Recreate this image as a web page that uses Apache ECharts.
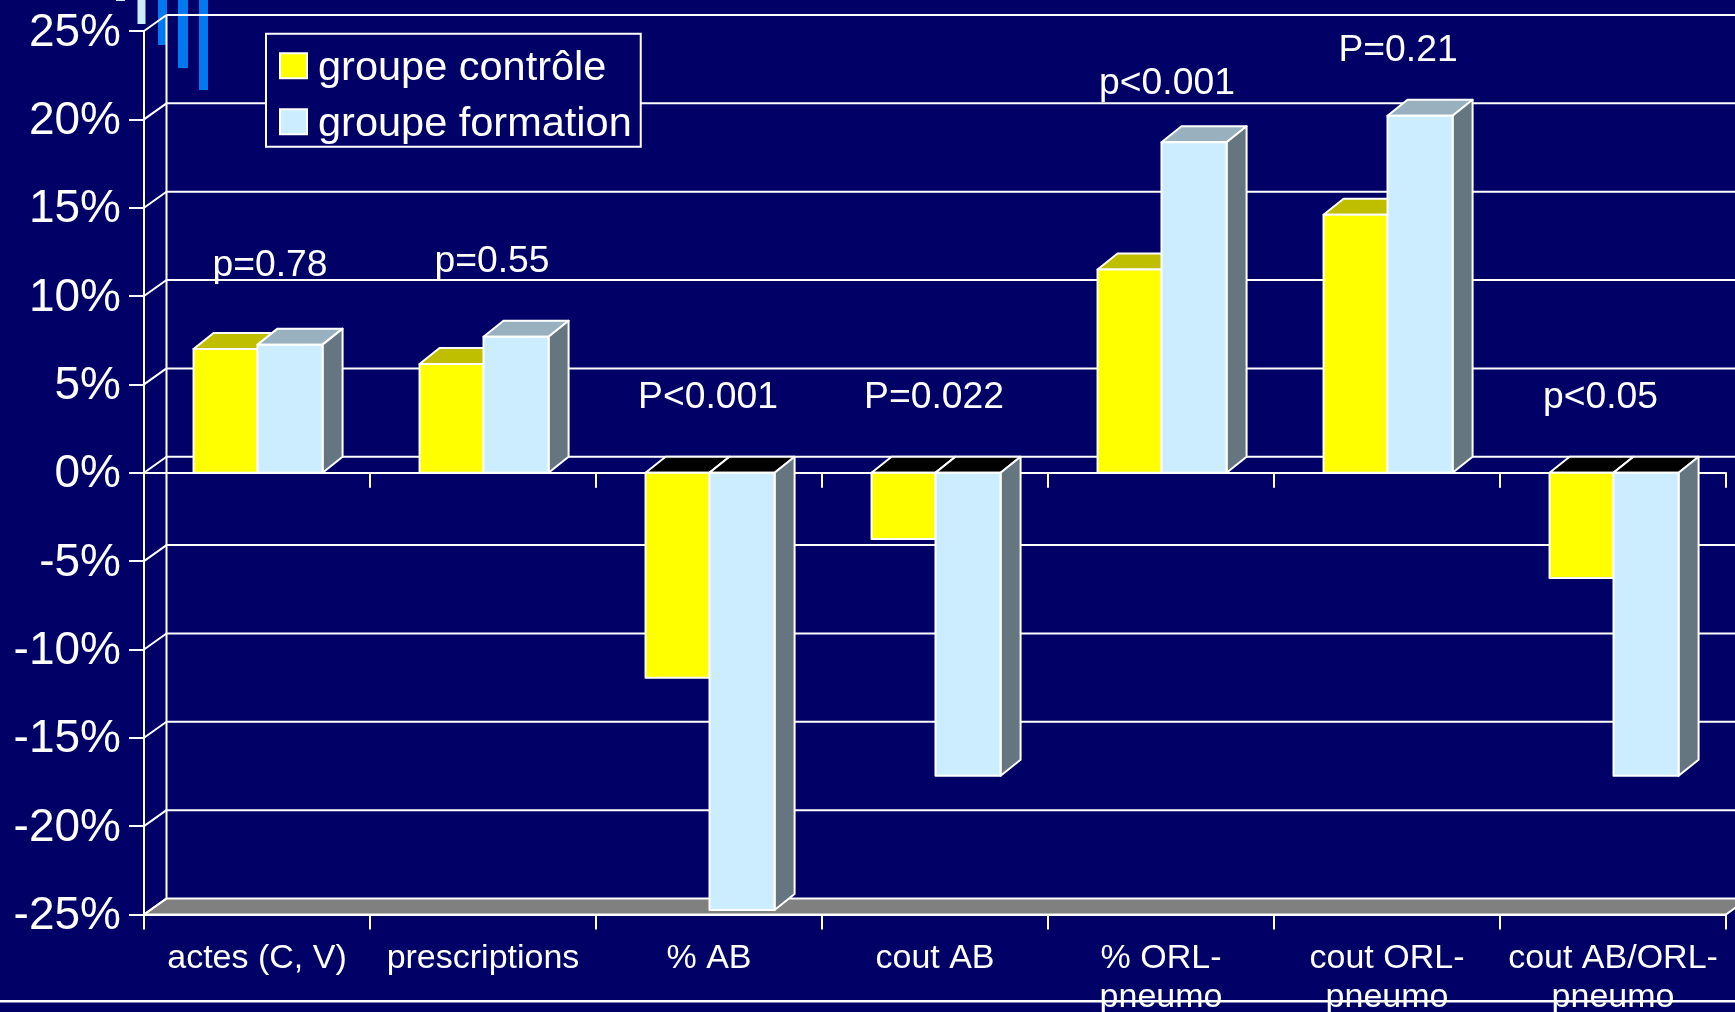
<!DOCTYPE html>
<html><head><meta charset="utf-8">
<style>html,body{margin:0;padding:0;background:#000066;overflow:hidden}#c{width:1735px;height:1012px}</style>
<script src="https://cdn.jsdelivr.net/npm/echarts@6/dist/echarts.min.js"></script>
</head><body><div id="c"></div>
<script>
const categories = ['actes (C, V)','prescriptions','% AB','cout AB','% ORL-\npneumo','cout ORL-\npneumo','cout AB/ORL-\npneumo'];
const controle = [7.0,6.15,-11.6,-3.75,11.5,14.6,-5.95];
const formation = [7.25,7.7,-24.75,-17.15,18.7,20.2,-17.15];
const yTicks = [-25,-20,-15,-10,-5,0,5,10,15,20,25];
const pLabels = ['p=0.78','p=0.55','P<0.001','P=0.022','p<0.001','P=0.21','p<0.05'];
const pLabelX = [270,492,708,934,1167,1398,1600.5];
const pLabelY = [266,262,398,398,84,51,398];

const BG='#000066', LINE='#ffffff', FONT='"Liberation Sans", Arial, sans-serif';
const WALL_DX=22.5, BAR_DX=20, DY=16;
const chart = echarts.init(document.getElementById('c'),null,{renderer:'canvas'});

function bar3d(ratio,isLeft,face,topFace,sideFace){
  return function(params,api){
    const i=api.value(0), v=api.value(1);
    const band=api.size([1,0])[0], w=band*ratio;
    const cx=api.coord([i,0])[0]+0.5;
    const x0=isLeft?cx-w:cx, x1=x0+w;
    const yt=api.coord([i,Math.max(v,0)])[1], yb=api.coord([i,Math.min(v,0)])[1];
    const edge={stroke:LINE,lineWidth:2,lineJoin:'round'};
    const poly=(pts,fill)=>({type:'polygon',shape:{points:pts},style:Object.assign({fill:fill},edge)});
    return {type:'group',children:[
      poly([[x0,yt],[x0+BAR_DX,yt-DY],[x1+BAR_DX,yt-DY],[x1,yt]], v>=0?topFace:'#000000'),
      poly([[x1,yt],[x1+BAR_DX,yt-DY],[x1+BAR_DX,yb-DY],[x1,yb]], sideFace),
      {type:'rect',shape:{x:x0,y:yt,width:w,height:yb-yt},style:Object.assign({fill:face},edge)}
    ]};
  };
}
function wall(params,api){
  const v=api.value(1), p=api.coord([0,v]), y=p[1];
  const cs=params.coordSys, xl=cs.x, xr=cs.x+cs.width;
  const line=(a,b,c,d)=>({type:'line',shape:{x1:a,y1:b,x2:c,y2:d},style:{stroke:LINE,lineWidth:2}});
  const kids=[];
  if(v===yTicks[0]){
    kids.push({type:'polygon',shape:{points:[[xl,y],[xl+WALL_DX,y-DY],[xr+WALL_DX,y-DY],[xr,y]]},style:{fill:'#808080',stroke:LINE,lineWidth:2}});
    kids.push(line(xl+WALL_DX,y-DY,xl+WALL_DX,cs.y-DY));
  } else kids.push(line(xl+WALL_DX,y-DY,xr+WALL_DX,y-DY));
  kids.push(line(xl,y,xl+WALL_DX,y-DY));
  return {type:'group',children:kids};
}
const graphic=[
  {type:'rect',shape:{x:116,y:0,width:9,height:1},style:{fill:'#CCECFF'},z:0},
  {type:'rect',shape:{x:137.5,y:0,width:8,height:24},style:{fill:'#CCECFF'},z:0},
  {type:'rect',shape:{x:158,y:0,width:9,height:45},style:{fill:'#0078F0'},z:0},
  {type:'rect',shape:{x:178,y:0,width:10,height:68},style:{fill:'#0078F0'},z:0},
  {type:'rect',shape:{x:199,y:0,width:9,height:90},style:{fill:'#0078F0'},z:0},
  {type:'rect',shape:{x:0,y:1000,width:1735,height:2.5},style:{fill:'#ffffff'},z:5}
];
pLabels.forEach((t,i)=>graphic.push({type:'text',x:pLabelX[i],y:pLabelY[i],z:6,style:{text:t,fill:'#fff',font:'37.3px '+FONT,align:'center',verticalAlign:'middle'}}));

chart.setOption({
  animation:false,
  backgroundColor:BG,
  textStyle:{fontFamily:FONT},
  grid:{left:144,right:9,top:31,bottom:97.5,containLabel:false,outerBoundsMode:'none'},
  legend:{
    left:266,top:33.7,orient:'vertical',align:'left',
    backgroundColor:BG,borderColor:LINE,borderWidth:2,borderRadius:0,
    padding:[8,9,1,13],itemWidth:27,itemHeight:25,itemGap:8,icon:'rect',
    formatter:'{a|{name}}',
    textStyle:{color:'#fff',fontSize:41.5,fontFamily:FONT,
      rich:{a:{color:'#fff',fontSize:41.5,fontFamily:FONT,lineHeight:36,padding:[6,0,0,6]}}},
    data:['groupe contrôle','groupe formation']
  },
  xAxis:[
    {type:'category',data:categories,position:'bottom',
     axisLine:{onZero:false,lineStyle:{color:LINE,width:2}},
     axisTick:{show:true,length:15,alignWithLabel:false,lineStyle:{color:LINE,width:2}},
     axisLabel:{color:'#fff',fontSize:34,lineHeight:39,margin:25,interval:0,fontFamily:FONT},
     splitLine:{show:false}},
    {type:'category',data:categories,position:'bottom',
     axisLine:{onZero:true,lineStyle:{color:LINE,width:2}},
     axisTick:{show:true,length:15,lineStyle:{color:LINE,width:2}},
     axisLabel:{show:false},splitLine:{show:false}}
  ],
  yAxis:{type:'value',min:-25,max:25,interval:5,
     axisLine:{show:true,lineStyle:{color:LINE,width:2}},
     axisTick:{show:true,length:15,lineStyle:{color:LINE,width:2}},
     axisLabel:{color:'#fff',margin:23,formatter:'{a|{value}%}',fontFamily:FONT,
       rich:{a:{color:'#fff',fontSize:46,fontFamily:FONT,lineHeight:46,padding:[4,0,0,0]}}},
     splitLine:{show:false}},
  series:[
    {type:'custom',name:'wall',z:1,silent:true,clip:false,coordinateSystem:'cartesian2d',
     data:yTicks.map(v=>[0,v]),encode:{x:0,y:1},renderItem:wall},
    {type:'custom',name:'groupe contrôle',z:2,clip:false,coordinateSystem:'cartesian2d',itemStyle:{color:'#FFFF00',borderColor:LINE,borderWidth:2},
     data:controle.map((v,i)=>[i,v]),encode:{x:0,y:1},renderItem:bar3d(0.283,true,'#FFFF00','#BFBF00','#808000')},
    {type:'custom',name:'groupe formation',z:3,clip:false,coordinateSystem:'cartesian2d',itemStyle:{color:'#CCECFF',borderColor:LINE,borderWidth:2},
     data:formation.map((v,i)=>[i,v]),encode:{x:0,y:1},renderItem:bar3d(0.288,false,'#CCECFF','#99B1BF','#667680')}
  ],
  graphic:graphic
});
</script></body></html>
